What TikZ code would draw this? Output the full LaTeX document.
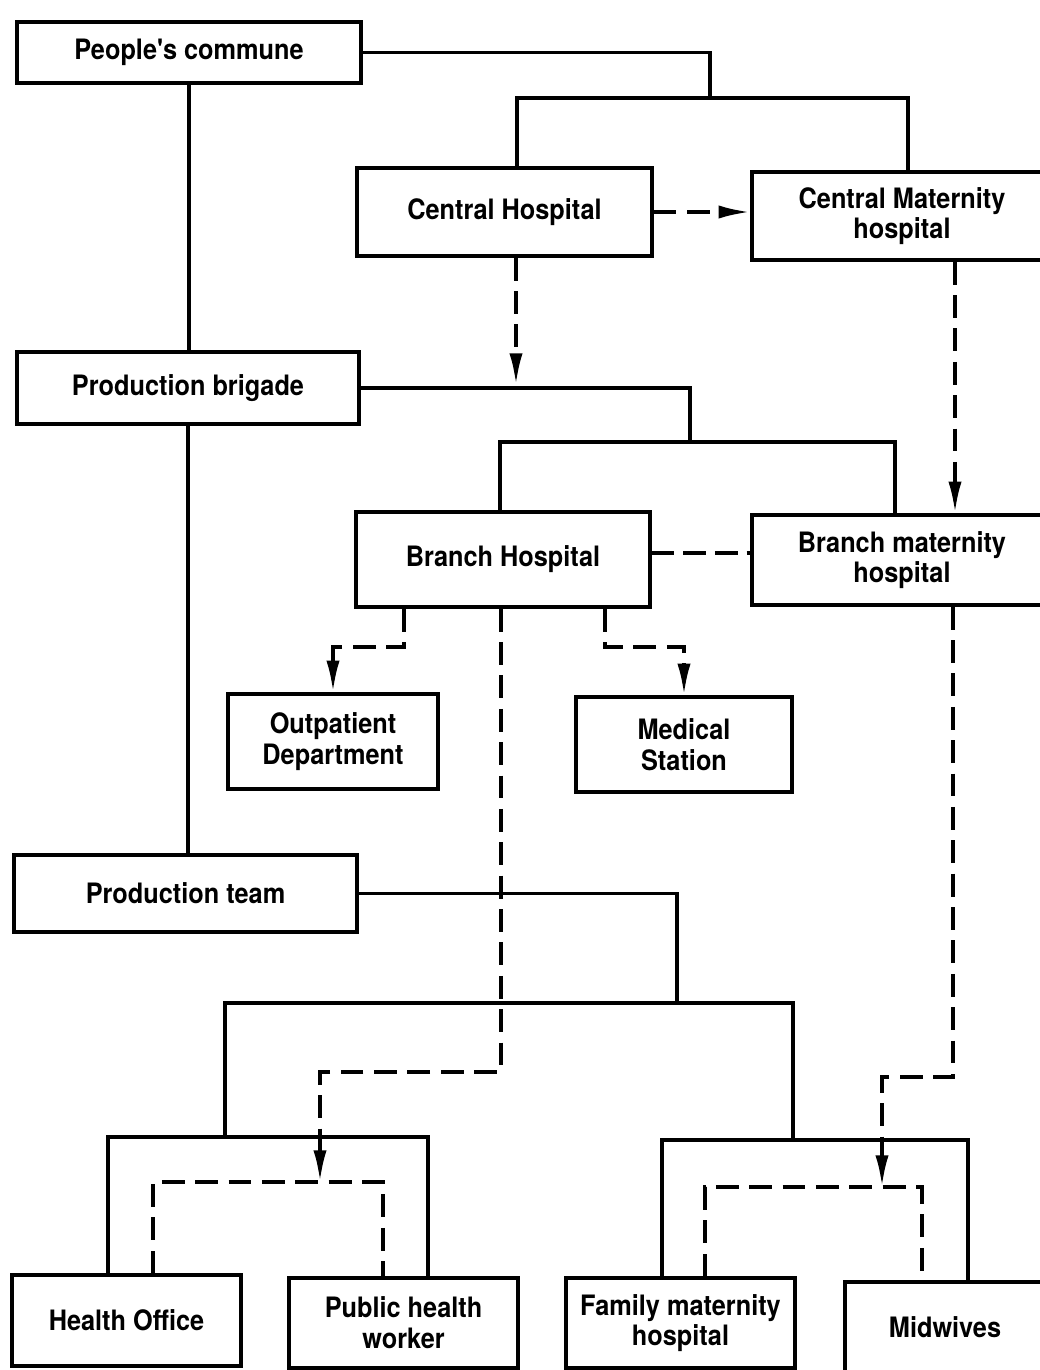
\documentclass[tikz,border=0pt]{standalone}
\usepackage{fontspec}
\newfontfamily\chartfont[FakeStretch=0.9]{TeX Gyre Heros}
\usetikzlibrary{arrows.meta,calc}

\begin{document}
\begin{tikzpicture}[x=0.02cm, y=-0.02cm,
	box/.style 2 args={draw, line width=1.9pt, minimum width=#1, minimum height=#2, inner sep=0pt, align=center, font={\chartfont\bfseries\fontsize{16}{17.5}\selectfont}},
	tree/.style={line width=2pt, line join=miter},
	link/.style={line width=2.1pt, dash pattern=on 13pt off 6pt},
	tip/.style={-{Latex[length=18pt,width=7.5pt]}}]
	\useasboundingbox (0,0) rectangle (1039,1370);
			 \node[box={6.88cm}{1.22cm}] (commune)at(189,52.5) {People's commune};
			 \node[box={5.9cm}{1.76cm}] (centralH)at(504.5,212) {Central Hospital};
			 \node[box={6.0cm}{1.76cm}] (centralM)at(902,216) {Central Maternity\\hospital};
			 \node[box={6.84cm}{1.44cm}] (brigade)at(188,388) {Production brigade};
			 \node[box={5.88cm}{1.9cm}] (branchH)at(503,559.5) {Branch Hospital};
			 \node[box={6.0cm}{1.8cm}] (branchM)at(902,560) {Branch maternity\\hospital};
			 \node[box={4.2cm}{1.9cm}] (outpatient)at(333,741.5) {Outpatient\\Department};
			 \node[box={4.32cm}{1.9cm}] (medical)at(684,744.5) {Medical\\Station};
			 \node[box={6.86cm}{1.54cm}] (team)at(185.5,893.5) {Production team};
			 \node[box={4.58cm}{1.82cm}] (healthOffice)at(126.5,1320.5) {Health Office};
			 \node[box={4.58cm}{1.8cm}] (publicHealth)at(403.5,1323) {Public health\\worker};
			 \node[box={4.58cm}{1.8cm}] (familyMat)at(680.5,1323) {Family maternity\\hospital};
			 \node[box={4.0cm}{1.8cm}] (midwives)at(945,1327) {Midwives};
			 \coordinate (k1)at(710,98);
			 \coordinate (b1l)at(517,98);
			 \coordinate (b1r)at(908,98);
			 \coordinate (k2)at(690,442);
			 \coordinate (b2l)at(500,442);
			 \coordinate (b2r)at(895,442);
			 \coordinate (k3)at(677,1003);
			 \coordinate (b3l)at(225,1003);
			 \coordinate (b3r)at(793,1003);
			 \coordinate (g1l)at(108,1137);
			 \coordinate (g1r)at(428,1137);
			 \coordinate (g2l)at(662,1140);
			 \coordinate (g2r)at(968,1140);
			 \coordinate (a1)at(516,385);
			 \coordinate (h1)at(700,553);
			 \coordinate (t1)at(404,647);
			 \coordinate (t2)at(605,647);
			 \coordinate (t3)at(501,1072);
			 \coordinate (t4)at(320,1072);
			 \coordinate (t5)at(953,1077);
			 \coordinate (t6)at(882,1077);
			 \coordinate (dl1)at(153,1182);
			 \coordinate (dl2)at(383,1182);
			 \coordinate (dr1)at(705,1187);
			 \coordinate (dr2)at(922,1187);
			 \draw[tree] (commune.east) -| (k1);
			 \draw[tree] (centralH.north -| b1l) -- (b1l) -- (b1r) -- (centralM.north -| b1r);
			 \draw[tree] (commune.south) -- (commune.south |- brigade.north);
			 \draw[tree] (brigade.east) -| (k2);
			 \draw[tree] (branchH.north -| b2l) -- (b2l) -- (b2r) -- (branchM.north -| b2r);
			 \draw[tree] (brigade.south) -- (brigade.south |- team.north);
			 \draw[tree] (team.east) -| (k3);
			 \draw[tree] (b3l |- g1l) -- (b3l) -- (b3r) -- (b3r |- g2l);
			 \draw[tree] (healthOffice.north -| g1l) -- (g1l) -- (g1r) -- (publicHealth.north -| g1r);
			 \draw[tree] (familyMat.north -| g2l) -- (g2l) -- (g2r) -- (midwives.north -| g2r);
			 \draw[link,tip] (centralH.east) -- (centralH.east -| centralM.west);
			 \draw[link,tip] (centralH.south -| a1) -- (a1);
			 \draw[link,tip] ($(centralM.south)+(53,0)$) -- ($(branchM.north)+(53,0)$);
			 \draw[link,dash pattern=on 13pt off 5pt] (h1 -| branchH.east) -- (h1 -| branchM.west);
			 \draw[link,tip] (branchH.south -| t1) -- (t1) -| (outpatient.north);
			 \draw[link,tip] (branchH.south -| t2) -- (t2) -| (medical.north);
			 \draw[link,tip] (branchH.south -| t3) -- (t3) -- (t4) -- (t4 |- dl1);
			 \draw[link,tip] (branchM.south -| t5) -- (t5) -- (t6) -- (t6 |- dr1);
			 \draw[link] (healthOffice.north -| dl1) -- (dl1) -- (dl2) -- (publicHealth.north -| dl2);
			 \draw[link] (familyMat.north -| dr1) -- (dr1) -- (dr2) -- (midwives.north -| dr2);
		\end{tikzpicture}
\end{document}
